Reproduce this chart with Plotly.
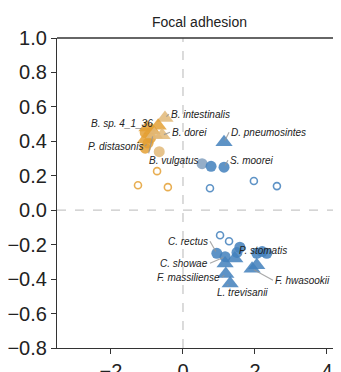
import plotly.graph_objects as go

# ---- data ----
# Bacteroidetes-like group (orange)
org_tri_x = [-0.50, -0.69, -0.86, -1.00, -0.58, -1.05, -0.80]
org_tri_y = [0.535, 0.49, 0.465, 0.48, 0.435, 0.41, 0.44]
org_tri_light = [1, 0, 0, 0, 1, 0, 1]
org_cir_x = [-1.05, -0.97, -1.05, -0.66, -0.90]
org_cir_y = [0.45, 0.39, 0.36, 0.34, 0.42]
org_cir_light = [0, 0, 0, 1, 0]
org_open_x = [-1.25, -0.72, -0.42]
org_open_y = [0.145, 0.227, 0.134]

# Blue group
blu_tri_x = [1.14, 1.17, 1.44, 1.19, 1.31, 1.92, 2.05]
blu_tri_y = [0.395, -0.31, -0.28, -0.37, -0.425, -0.34, -0.32]
blu_cir_x = [0.53, 0.78, 1.14, 0.94, 1.17, 1.50, 1.58, 2.05, 2.33, 2.20]
blu_cir_y = [0.27, 0.255, 0.25, -0.25, -0.27, -0.245, -0.215, -0.25, -0.25, -0.24]
blu_cir_light = [1, 0, 0, 0, 0, 0, 0, 0, 0, 0]
blu_open_x = [0.75, 1.97, 2.61, 1.03, 1.28]
blu_open_y = [0.128, 0.17, 0.14, -0.145, -0.18]

# labels: name, point x, point y, label x, label y, anchor
lab_names = ["B. intestinalis", "B. sp. 4_1_36", "B. dorei", "P. distasonis",
             "B. vulgatus", "D. pneumosintes", "S. moorei", "C. rectus",
             "P. stomatis", "C. showae", "F. massiliense", "F. hwasookii",
             "L. trevisanii"]
lab_px = [-0.50, -0.86, -0.58, -0.97, -0.83, 1.14, 1.14, 0.94, 1.50, 1.17, 1.19, 1.92, 1.31]
lab_py = [0.535, 0.465, 0.435, 0.39, 0.44, 0.395, 0.25, -0.25, -0.245, -0.27, -0.37, -0.34, -0.425]
lab_tx = [-0.39, -0.78, -0.36, -1.06, -1.00, 1.28, 1.25, 0.75, 1.50, 0.75, 1.08, 2.50, 0.89]
lab_ty = [0.558, 0.506, 0.453, 0.372, 0.29, 0.453, 0.29, -0.18, -0.233, -0.308, -0.39, -0.407, -0.477]
lab_anchor = ["left", "right", "left", "right", "left", "left", "left", "right",
              "left", "right", "right", "left", "left"]

title_text = "Focal adhesion"
y_ticks = [-0.8, -0.6, -0.4, -0.2, 0.0, 0.2, 0.4, 0.6, 0.8, 1.0]
x_ticks = [-2, 0, 2, 4]

# ---- styles ----
ORG = "rgba(228,160,52,0.85)"
ORG_L = "rgba(226,184,120,0.85)"
BLU = "rgba(66,128,188,0.85)"
BLU_L = "rgba(130,160,190,0.85)"
FONT = "Liberation Sans, Arial, sans-serif"

fig = go.Figure()

# dashed zero lines
fig.add_shape(type="line", x0=0, x1=0, y0=0, y1=1, xref="x", yref="paper",
              line=dict(color="#c8c8c8", width=1.3, dash="dash"), layer="below")
fig.add_shape(type="line", x0=0, x1=1, y0=0, y1=0, xref="paper", yref="y",
              line=dict(color="#c8c8c8", width=1.3, dash="dash"), layer="below")
# top spine
fig.add_shape(type="line", x0=0, x1=1, y0=1, y1=1, xref="paper", yref="paper",
              line=dict(color="#333", width=1.3))

fig.add_trace(go.Scatter(x=org_open_x, y=org_open_y, mode="markers",
                         marker=dict(symbol="circle-open", size=7, color=ORG, line=dict(width=1.6))))
fig.add_trace(go.Scatter(x=blu_open_x, y=blu_open_y, mode="markers",
                         marker=dict(symbol="circle-open", size=7, color=BLU, line=dict(width=1.6))))
fig.add_trace(go.Scatter(x=org_cir_x, y=org_cir_y, mode="markers",
                         marker=dict(symbol="circle", size=11,
                                     color=[ORG_L if l else ORG for l in org_cir_light],
                                     line=dict(width=0))))
fig.add_trace(go.Scatter(x=org_tri_x, y=org_tri_y, mode="markers",
                         marker=dict(symbol="triangle-up", size=15,
                                     color=[ORG_L if l else ORG for l in org_tri_light],
                                     line=dict(width=0))))
fig.add_trace(go.Scatter(x=blu_cir_x, y=blu_cir_y, mode="markers",
                         marker=dict(symbol="circle", size=11,
                                     color=[BLU_L if l else BLU for l in blu_cir_light],
                                     line=dict(width=0))))
fig.add_trace(go.Scatter(x=blu_tri_x, y=blu_tri_y, mode="markers",
                         marker=dict(symbol="triangle-up", size=15, color=BLU,
                                     line=dict(width=0))))

for n, px, py, tx, ty, an in zip(lab_names, lab_px, lab_py, lab_tx, lab_ty, lab_anchor):
    fig.add_annotation(x=px, y=py, ax=tx, ay=ty, axref="x", ayref="y",
                       text=n, showarrow=True, arrowhead=0, arrowwidth=1.2,
                       arrowcolor="rgba(150,150,150,0.8)", xanchor=an, yanchor="middle",
                       font=dict(family=FONT, size=10, color="#222", style="italic"),
                       standoff=2)

# title
fig.add_annotation(x=0.5, y=1 + 16 / 310, xref="paper", yref="paper", text=title_text,
                   showarrow=False, xanchor="center", yanchor="middle",
                   font=dict(family=FONT, size=14, color="#222"))

# page body has an 8px margin, so the figure is sized/offset to compensate
fig.update_layout(
    width=333, height=364,
    margin=dict(l=49, r=0, t=30, b=24),
    plot_bgcolor="white", paper_bgcolor="white",
    showlegend=False,
    font=dict(family=FONT, color="#222"),
)
fig.update_xaxes(range=[-3.5, 4.39], tickvals=x_ticks, ticks="outside", ticklen=5,
                 tickwidth=1.2, tickcolor="#333", showgrid=False, zeroline=False,
                 showline=True, linecolor="#333", linewidth=1.3, automargin=False,
                 tickfont=dict(family=FONT, size=20, color="#222"))
fig.update_yaxes(range=[-0.8, 1.0], tickvals=y_ticks, tickformat=".1f", ticks="outside",
                 ticklen=5, tickwidth=1.2, tickcolor="#333", showgrid=False, zeroline=False,
                 showline=True, linecolor="#333", linewidth=1.3, automargin=False,
                 tickfont=dict(family=FONT, size=20, color="#222"))

fig.write_html("out.html")
